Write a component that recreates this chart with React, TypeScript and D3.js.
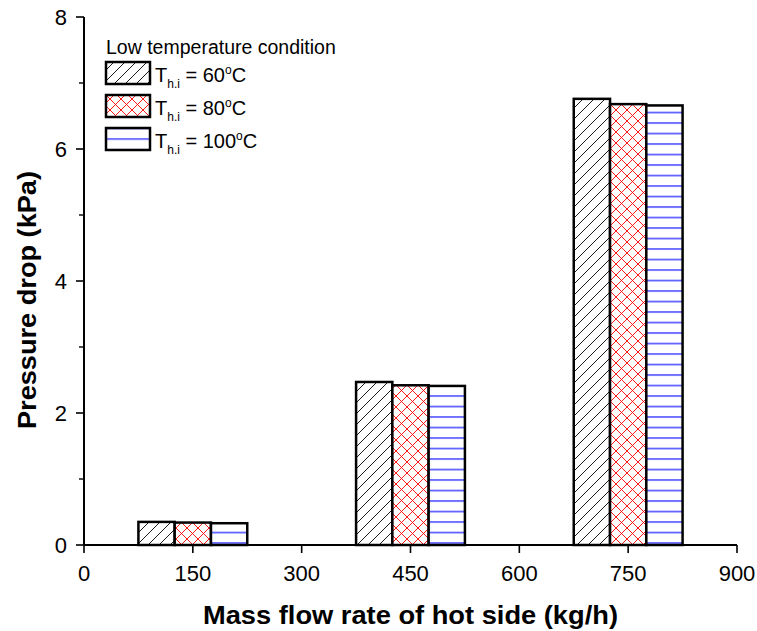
import React from "react";
import * as d3 from "d3";

const categories = [150, 450, 750];
const seriesNames = ["60", "80", "100"];
const series60 = [0.35, 2.47, 6.76];
const series80 = [0.34, 2.42, 6.68];
const series100 = [0.33, 2.41, 6.66];
const xTicks = [0, 150, 300, 450, 600, 750, 900];
const yTicks = [0, 2, 4, 6, 8];
const yMinorTicks = [1, 3, 5, 7];

const W = 757, H = 631;
const M = { left: 84, right: 737, top: 17, bottom: 545 };

export default function App() {
  const x = d3.scaleLinear().domain([0, 900]).range([M.left, M.right]);
  const y = d3.scaleLinear().domain([0, 8]).range([M.bottom, M.top]);
  const allSeries = [series60, series80, series100];
  const offsets = [-50, 0, 50];
  const barW = 50;
  const fills = ["url(#hatch)", "url(#cross)", "url(#hline)"];
  const legendFills = ["url(#hatch)", "url(#cross)", "url(#hlineL)"];
  const font = "Arial, 'Liberation Sans', sans-serif";

  return (
    <svg width={W} height={H} style={{ position: "absolute", left: 0, top: 0, background: "#fff" }} fontFamily={font}>
      <defs>
        <pattern id="hatch" patternUnits="userSpaceOnUse" width="11" height="11">
          <rect width="11" height="11" fill="#fff" />
          <path d="M0,11 L11,0 M-2,2 L2,-2 M9,13 L13,9" stroke="#000" strokeWidth="0.9" />
        </pattern>
        <pattern id="cross" patternUnits="userSpaceOnUse" width="11" height="11">
          <rect width="11" height="11" fill="#fff" />
          <path d="M0,11 L11,0 M-2,2 L2,-2 M9,13 L13,9 M0,0 L11,11 M-2,9 L2,13 M9,-2 L13,2" stroke="#ff0000" strokeWidth="0.9" />
        </pattern>
        <pattern id="hline" patternUnits="userSpaceOnUse" width="11" height="10.5">
          <rect width="11" height="10.5" fill="#fff" />
          <rect x="0" y="7" width="11" height="1.1" fill="#0000ff" />
        </pattern>
        <pattern id="hlineL" patternUnits="userSpaceOnUse" width="11" height="10.5">
          <rect width="11" height="10.5" fill="#fff" />
          <rect x="0" y="2" width="11" height="1.1" fill="#0000ff" />
        </pattern>
      </defs>

      {/* bars */}
      {allSeries.map((s, si) =>
        s.map((v, ci) => {
          const x0 = x(categories[ci] + offsets[si] - barW / 2);
          const x1 = x(categories[ci] + offsets[si] + barW / 2);
          return (
            <rect key={`${si}-${ci}`} x={x0} y={y(v)} width={x1 - x0} height={y(0) - y(v)}
              fill={fills[si]} stroke="#000" strokeWidth={2.5} />
          );
        })
      )}

      {/* axes */}
      <line x1={M.left} x2={M.right} y1={M.bottom} y2={M.bottom} stroke="#000" strokeWidth={2} />
      <line x1={M.left} x2={M.left} y1={M.top} y2={M.bottom} stroke="#000" strokeWidth={2} />
      {xTicks.map((t) => (
        <g key={t}>
          <line x1={x(t)} x2={x(t)} y1={M.bottom} y2={M.bottom + 8} stroke="#000" strokeWidth={1.6} />
          <text x={x(t)} y={581} textAnchor="middle" fontSize={22}>{t}</text>
        </g>
      ))}
      {yTicks.map((t) => (
        <g key={t}>
          <line x1={M.left - 8} x2={M.left} y1={y(t)} y2={y(t)} stroke="#000" strokeWidth={1.6} />
          <text x={M.left - 17} y={y(t) + 8} textAnchor="end" fontSize={22}>{t}</text>
        </g>
      ))}
      {yMinorTicks.map((t) => (
        <line key={t} x1={M.left - 5} x2={M.left} y1={y(t)} y2={y(t)} stroke="#000" strokeWidth={1.4} />
      ))}

      {/* axis titles */}
      <text x={410.5} y={624} textAnchor="middle" fontSize={26} fontWeight="bold"
        textLength={415} lengthAdjust="spacingAndGlyphs">
        Mass flow rate of hot side (kg/h)
      </text>
      <text transform="translate(36,300) rotate(-90)" textAnchor="middle" fontSize={26} fontWeight="bold"
        textLength={258} lengthAdjust="spacingAndGlyphs">
        Pressure drop (kPa)
      </text>

      {/* legend */}
      <text x={106} y={54} fontSize={19.5}>Low temperature condition</text>
      {seriesNames.map((n, i) => {
        const by = 62 + i * 33;
        return (
          <g key={n}>
            <rect x={106} y={by} width={44} height={22} fill={legendFills[i]} stroke="#000" strokeWidth={2.5} />
            <text x={155} y={by + 20} fontSize={20}>
              T<tspan fontSize={12} dy={6}>h.i</tspan>
              <tspan dy={-6}> = {n}</tspan>
              <tspan fontSize={12} dy={-8}>o</tspan>
              <tspan dy={8}>C</tspan>
            </text>
          </g>
        );
      })}
    </svg>
  );
}
